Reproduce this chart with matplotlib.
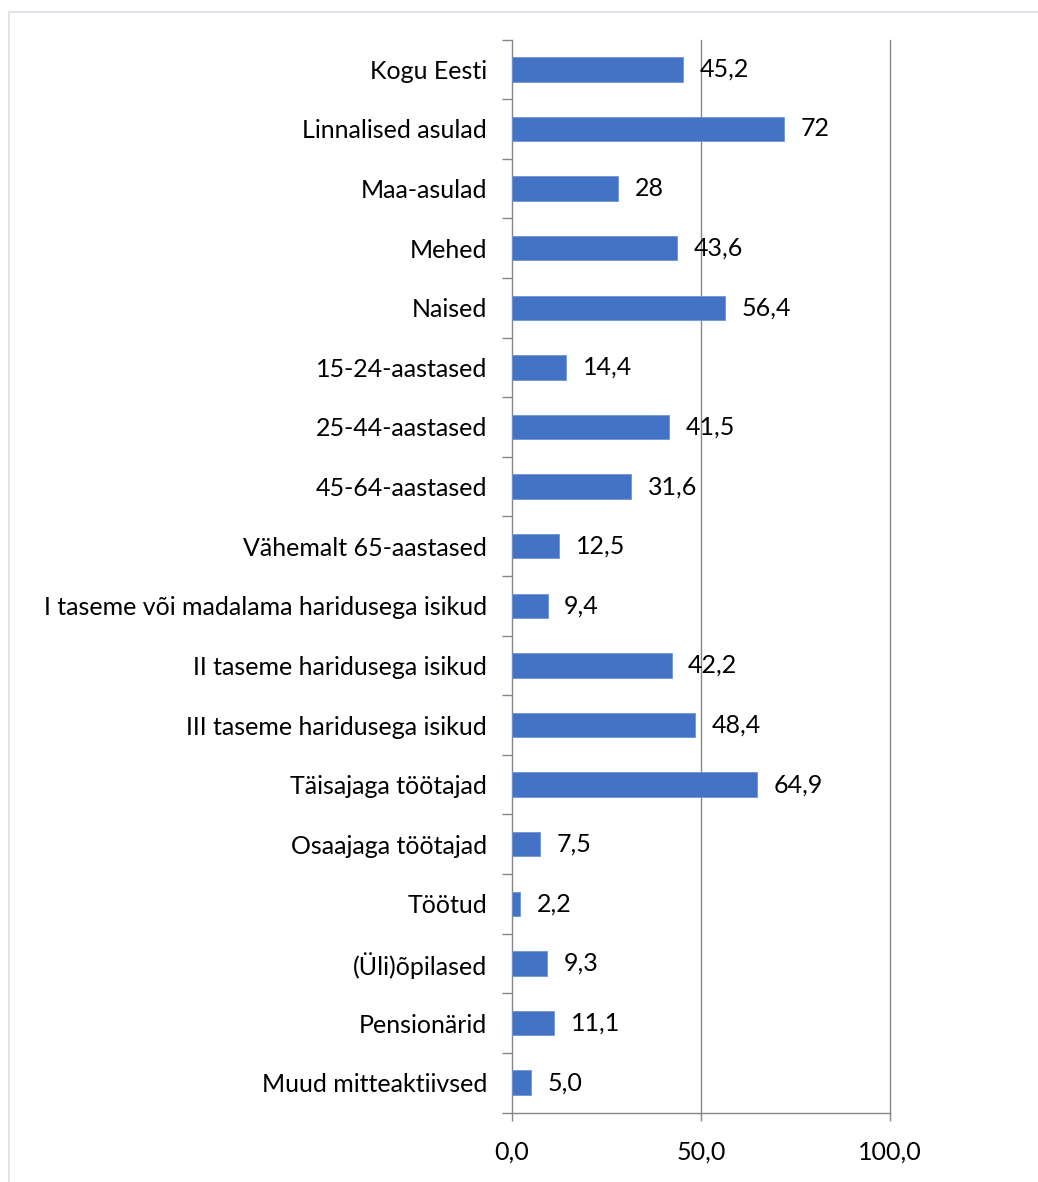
import matplotlib
matplotlib.use("Agg")
import matplotlib.pyplot as plt
from matplotlib.patches import Rectangle

plt.rcParams['font.family'] = ['Lato', 'DejaVu Sans']

categories = [
    "Kogu Eesti", "Linnalised asulad", "Maa-asulad", "Mehed", "Naised",
    "15-24-aastased", "25-44-aastased", "45-64-aastased", "Vähemalt 65-aastased",
    "I taseme või madalama haridusega isikud", "II taseme haridusega isikud",
    "III taseme haridusega isikud", "Täisajaga töötajad", "Osaajaga töötajad",
    "Töötud", "(Üli)õpilased", "Pensionärid", "Muud mitteaktiivsed",
]
values = [45.2, 72, 28, 43.6, 56.4, 14.4, 41.5, 31.6, 12.5, 9.4, 42.2, 48.4,
          64.9, 7.5, 2.2, 9.3, 11.1, 5.0]
value_labels = ["45,2", "72", "28", "43,6", "56,4", "14,4", "41,5", "31,6", "12,5",
                "9,4", "42,2", "48,4", "64,9", "7,5", "2,2", "9,3", "11,1", "5,0"]
x_ticks = [0, 50, 100]
x_tick_labels = ["0,0", "50,0", "100,0"]

W, H = 1038, 1182
fig = plt.figure(figsize=(W / 100, H / 100), dpi=100)
fig.patch.set_facecolor("white")
fig.patches.append(Rectangle((9 / W, -0.05), 1.2, (H - 12) / H + 0.05,
                             transform=fig.transFigure, fill=False,
                             edgecolor="#D9DFE8", linewidth=1.2))

ax = fig.add_axes([512 / W, 69.5 / H, (890 - 512) / W, (1112.5 - 39.5) / H])
n = len(categories)
pos = list(range(n))
bars = ax.barh(pos, values, height=0.41, color="#4472C4", edgecolor="#6F93D6",
               linewidth=0.6, zorder=3)
ax.set_ylim(n - 0.5, -0.5)
ax.set_xlim(0, 100)

fs = 18
ax.set_yticks(pos)
ax.set_yticklabels(categories, fontsize=fs)
ax.set_yticks([i - 0.5 for i in range(n + 1)], minor=True)
ax.tick_params(axis="y", which="major", length=0, pad=18)
ax.tick_params(axis="y", which="minor", length=7, width=1, color="#868686")

ax.set_xticks(x_ticks)
ax.set_xticklabels(x_tick_labels, fontsize=fs)
ax.tick_params(axis="x", which="major", length=6, width=1, color="#868686", pad=14)

for s in ["top", "right"]:
    ax.spines[s].set_visible(False)
for s in ["left", "bottom"]:
    ax.spines[s].set_color("#868686")
    ax.spines[s].set_linewidth(1)

for xv in x_ticks[1:]:
    ax.axvline(xv, color="#868686", linewidth=1, zorder=1, clip_on=False)

for b, lab in zip(bars, value_labels):
    ax.annotate(lab, xy=(b.get_width(), b.get_y() + b.get_height() / 2),
                xytext=(12, 0), textcoords="offset points",
                ha="left", va="center", fontsize=fs, zorder=4)

fig.savefig("out.png", dpi=100)
